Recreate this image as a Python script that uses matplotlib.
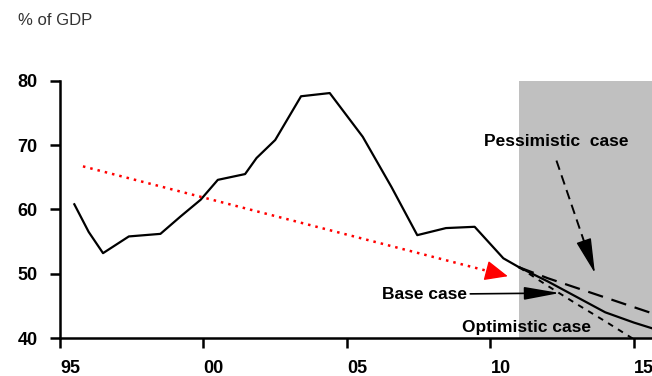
import matplotlib.pyplot as plt
from matplotlib import font_manager

# historical debt ratio, % of GDP
hist_years = [1995.5, 1996.0, 1996.5, 1997.4, 1998.5, 1999.2, 1999.9, 2000.5,
              2001.45, 2001.85, 2002.5, 2003.4, 2004.4, 2005.55, 2006.55,
              2007.45, 2008.45, 2009.45, 2010.45, 2011.0]
hist_debt = [60.8, 56.5, 53.2, 55.8, 56.2, 58.9, 61.5, 64.6, 65.5, 68.0,
             70.8, 77.6, 78.1, 71.3, 63.5, 56.0, 57.1, 57.3, 52.4, 51.0]

# scenarios
fc_years = [2011, 2012, 2013, 2014, 2015, 2016]
base_case = [51.0, 48.8, 46.4, 44.0, 42.4, 41.0]
pessimistic_case = [51.0, 49.3, 47.8, 46.3, 44.8, 43.3]
optimistic_case = [51.0, 48.1, 45.3, 42.6, 39.8, 37.0]

# red trend arrow (start, end)
trend_start = (1995.8, 66.7)
trend_end = (2010.7, 49.5)

# pessimistic pointer (start, end)
pess_start = (2012.3, 67.6)
pess_end = (2013.64, 50.1)

forecast_start = 2011.0
xticks = [1995, 2000, 2005, 2010, 2015]
xticklabels = ['95', '00', '05', '10', '15']
yticks = [40, 50, 60, 70, 80]

names = {f.name for f in font_manager.fontManager.ttflist}
narrow = 'Liberation Sans Narrow' if 'Liberation Sans Narrow' in names else 'Liberation Sans'
ann_size = 15 if narrow == 'Liberation Sans Narrow' else 12.5

plt.rcParams['font.family'] = ['Liberation Sans', 'DejaVu Sans']

fig = plt.figure(figsize=(6.52, 3.76), dpi=100)
ax = fig.add_axes([0.092, 0.101, 0.908, 0.684])

ax.axvspan(forecast_start, 2020, color='#c0c0c0', lw=0, zorder=0)

ax.plot(hist_years, hist_debt, color='black', lw=1.6, zorder=3)
ax.plot(fc_years, base_case, color='black', lw=1.6, zorder=3)
ax.plot(fc_years, pessimistic_case, color='black', lw=1.6, dashes=(7, 4), zorder=3)
ax.plot(fc_years, optimistic_case, color='black', lw=1.4, dashes=(3, 3), zorder=3)

# red dotted trend with a solid head
ax.plot([trend_start[0], trend_end[0] - 0.3], [trend_start[1], trend_end[1] + 0.35],
        color='red', lw=1.8, ls=(0, (1, 2)), zorder=4)
ax.annotate('', xy=trend_end, xytext=(trend_end[0] - 0.6, trend_end[1] + 0.7),
            arrowprops=dict(arrowstyle='-|>,head_length=0.8,head_width=0.35',
                            color='red', lw=1, mutation_scale=18),
            zorder=5)

# pessimistic: dashed shaft, solid head
ax.plot([pess_start[0], pess_end[0] - 0.1], [pess_start[1], pess_end[1] + 1.3],
        color='black', lw=1.4, dashes=(5, 3), zorder=4)
ax.annotate('', xy=pess_end, xytext=(pess_end[0] - 0.2, pess_end[1] + 2.6),
            arrowprops=dict(arrowstyle='-|>,head_length=1.0,head_width=0.22',
                            color='black', lw=1, mutation_scale=22,
                            shrinkA=0, shrinkB=0), zorder=5)
ax.text(2012.3, 70.5, 'Pessimistic  case', ha='center', va='center',
        fontsize=ann_size, fontweight='bold', family=narrow)

ax.annotate('Base case', xy=(2012.42, 47.0), xytext=(2009.2, 46.8),
            ha='right', va='center', fontsize=ann_size, fontweight='bold', family=narrow,
            arrowprops=dict(arrowstyle='-|>,head_length=1.0,head_width=0.18',
                            color='black', lw=1.2,
                            mutation_scale=22, shrinkA=0, shrinkB=0))
ax.text(2011.24, 41.6, 'Optimistic case', ha='center', va='center',
        fontsize=ann_size, fontweight='bold', family=narrow, zorder=6)

ax.set_xlim(1995, 2015.63)
ax.set_ylim(40, 80)
ax.set_xticks(xticks)
ax.set_xticklabels(xticklabels, ha='left')
ax.set_yticks(yticks)
for lab in ax.get_xticklabels() + ax.get_yticklabels():
    lab.set_fontweight('bold')
    lab.set_fontsize(13)
ax.tick_params(axis='both', direction='out', length=7, width=1.8, pad=9, colors='black')
for s in ['top', 'right']:
    ax.spines[s].set_visible(False)
for s in ['left', 'bottom']:
    ax.spines[s].set_linewidth(1.8)
ax.spines['left'].set_zorder(7)

fig.text(0.028, 0.945, '% of GDP', fontsize=12, color='#333333', va='center')

fig.savefig('out.png', dpi=100)
